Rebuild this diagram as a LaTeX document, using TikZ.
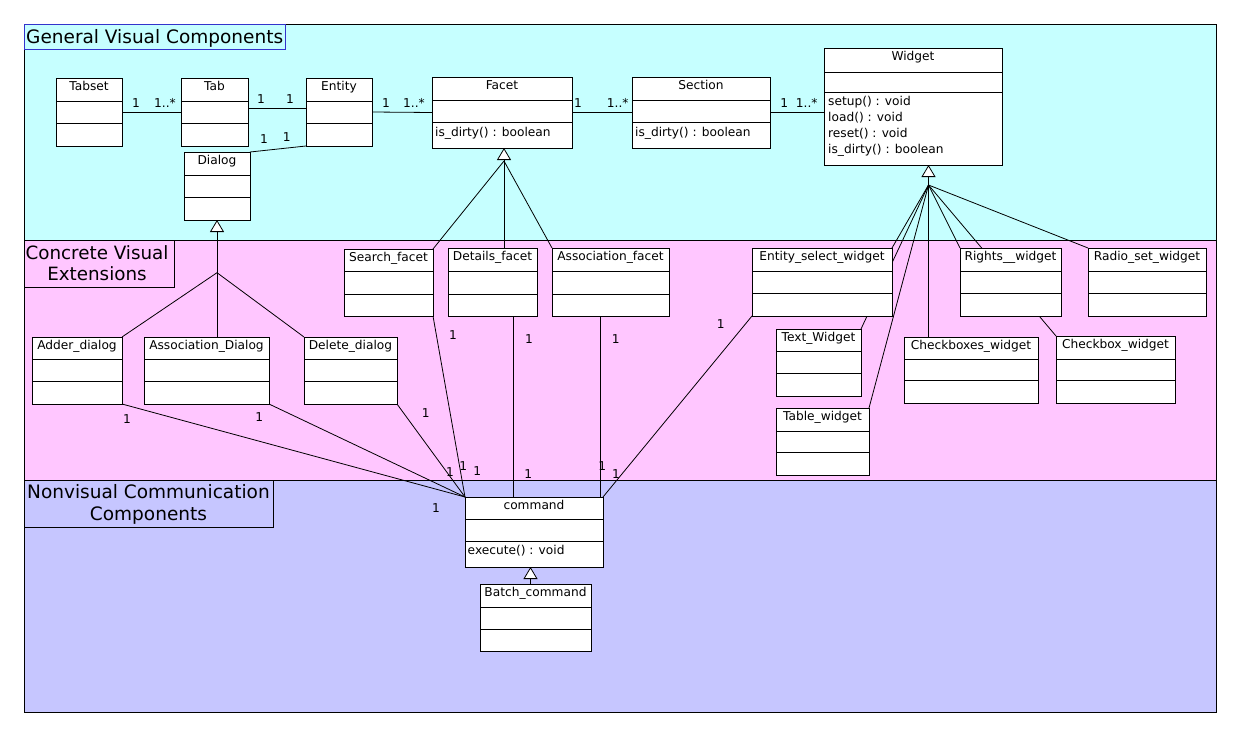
\documentclass[tikz,border=0pt]{standalone}
\usepackage{fontspec}
\setmainfont{DejaVu Sans}
\usetikzlibrary{arrows.meta,calc}
\pgfdeclarelayer{bg}
\pgfdeclarelayer{wires}
\pgfsetlayers{bg,wires,main}
\definecolor{bandA}{RGB}{198,255,255}
\definecolor{bandB}{RGB}{255,198,255}
\definecolor{bandC}{RGB}{198,198,255}
\definecolor{ttlblue}{RGB}{51,51,204}
\tikzset{
  clsbox/.style={draw=black, fill=white, line width=1pt, inner sep=0pt, outer sep=0pt},
  clsrule/.style={line width=1pt},
  clsname/.style={font=\fontsize{12.2}{14}\selectfont, anchor=base, inner sep=0pt},
  meth/.style={font=\fontsize{12.2}{14}\selectfont, anchor=base west, inner sep=0pt},
  mult/.style={font=\fontsize{12.2}{14}\selectfont, inner sep=0pt},
  assoc/.style={draw=black, line width=0.8pt},
  gen/.style={draw=black, line width=0.8pt, -{Triangle[fill=white, length=12pt, width=14pt]}},
  band/.style={draw=black, line width=0.9pt},
  ttl/.style={anchor=base, inner sep=0pt}
}
\newcommand\umlclass[8]{%
  \node[clsbox, minimum width={#4-#2}, minimum height={#5-#3}, anchor=north west] (#1) at (#2,#3) {};
  \draw[clsrule] (#2,#6) -- (#4,#6) (#2,#7) -- (#4,#7);
  \node[clsname] (#1-n) at ({(#2+#4)/2},{#3+12.3}) {#8};
}
\begin{document}
\begin{tikzpicture}[x=1pt,y=-1pt]
\useasboundingbox (0,0) rectangle (1240,736);
\begin{pgfonlayer}{bg}
  \fill[white] (0,0) rectangle (1240,736);
  \fill[bandA] (24,24) rectangle (1216,240);
  \fill[bandB] (24,240) rectangle (1216,480);
  \fill[bandC] (24,480) rectangle (1216,712);
  \draw[band] (24,24) rectangle (1216,240);
  \draw[band] (24,240) rectangle (1216,480);
  \draw[band] (24,480) rectangle (1216,712);
\end{pgfonlayer}

% title boxes
\draw[ttlblue, line width=0.9pt] (24,24) rectangle (285,49);
\draw[black, line width=0.9pt] (24,240) rectangle (174,287);
\draw[black, line width=0.9pt] (24,480) rectangle (273,527);
\node[ttl, anchor=base west, font=\fontsize{18.5}{20}\selectfont] (t1) at (26,43.3) {General Visual Components};
\node[ttl, font=\fontsize{18.3}{20}\selectfont] (t2a) at (97,259) {Concrete Visual};
\node[ttl, font=\fontsize{18.3}{20}\selectfont] (t2b) at (97,280.3) {Extensions};
\node[ttl, font=\fontsize{18.5}{20}\selectfont] (t3a) at (148.5,498.3) {Nonvisual Communication};
\node[ttl, font=\fontsize{18.5}{20}\selectfont] (t3b) at (148.5,520) {Components};

% classes
\umlclass{Tabset}{56}{78}{122}{146}{101}{123}{Tabset}
\umlclass{Tab}{181}{78}{248}{146}{101}{123}{Tab}
\umlclass{Entity}{306}{78}{372}{146}{101}{123}{Entity}
\umlclass{Dialog}{184}{152}{250}{220}{175}{197}{Dialog}
\umlclass{Facet}{432}{77}{572}{148}{100}{122}{Facet}
\umlclass{Section}{632}{77}{770}{148}{100}{122}{Section}
\umlclass{Widget}{824}{48}{1002}{165}{72}{92}{Widget}
\umlclass{Search}{344}{249}{433}{316}{271}{294}{Search\_facet}
\umlclass{Details}{448}{248}{537}{316}{271}{294}{Details\_facet}
\umlclass{Assocf}{552}{248}{669}{316}{271}{294}{Association\_facet}
\umlclass{EntSel}{752}{248}{892}{316}{271}{293}{Entity\_select\_widget}
\umlclass{Rights}{960}{248}{1061}{316}{271}{293}{Rights\_\_widget}
\umlclass{Radio}{1088}{248}{1206}{316}{271}{293}{Radio\_set\_widget}
\umlclass{Adder}{32}{337}{122}{404}{359}{381}{Adder\_dialog}
\umlclass{AssocD}{144}{337}{269}{404}{359}{381}{Association\_Dialog}
\umlclass{Delete}{304}{337}{397}{404}{359}{381}{Delete\_dialog}
\umlclass{TextW}{776}{329}{861}{396}{351}{373}{Text\_Widget}
\umlclass{Checkboxes}{904}{337}{1038}{403}{359}{380}{Checkboxes\_widget}
\umlclass{Checkbox}{1056}{336}{1175}{403}{359}{380}{Checkbox\_widget}
\umlclass{TableW}{776}{408}{869}{475}{431}{452}{Table\_widget}
\umlclass{command}{465}{497}{603}{567}{519}{541}{command}
\umlclass{Batch}{480}{584}{591}{651}{607}{629}{Batch\_command}

% methods
\node[meth] (Facet-m1) at (435,136) {is\_dirty() : boolean};
\node[meth] (Section-m1) at (635,136) {is\_dirty() : boolean};
\node[meth] (Widget-m1) at (828,105.7) {setup() : void};
\node[meth] (Widget-m2) at (828,121.7) {load() : void};
\node[meth] (Widget-m3) at (828,137.7) {reset() : void};
\node[meth] (Widget-m4) at (828,153.7) {is\_dirty() : boolean};
\node[meth] (command-m1) at (467.5,554.3) {execute() : void};

% helper coordinates
\coordinate (fanD) at (217,272.7);
\coordinate (fApex) at (504,148);
\coordinate (fanF) at (504,161);
\coordinate (wApex) at (928.5,165);
\coordinate (fanW) at (928.5,185);
\coordinate (cApex) at (530.5,567);
\coordinate (dt) at (513.3,316);
\coordinate (af) at (600,316);

\begin{pgfonlayer}{wires}
  % associations, top band
  \draw[assoc] (Tabset.east) -- (Tab.west);
  \draw[assoc] ([yshift=4pt]Tab.east) -- ([yshift=4pt]Entity.west);
  \draw[assoc] (Dialog.north east) -- (Entity.south west);
  \draw[assoc] (Entity.east) -- (Facet.west);
  \draw[assoc] (Facet.east) -- (Section.west);
  \draw[assoc] (Section.east) -- (Section.east -| Widget.west);
  % generalizations
  \draw[gen] (AssocD.north -| Dialog.south) -- (Dialog.south);
  \draw[assoc] (fanD) -- (Adder.north east);
  \draw[assoc] (fanD) -- (Delete.north west);
  \draw[gen] (fApex |- Details.north) -- (fApex);
  \draw[assoc] (fanF) -- (Search.north east);
  \draw[assoc] (fanF) -- (Assocf.north west);
  \draw[gen] (wApex |- Checkboxes.north) -- (wApex);
  \draw[assoc] (fanW) -- (EntSel.north east);
  \draw[assoc] (fanW) -- (TextW.north east);
  \draw[assoc] (fanW) -- (TableW.north east);
  \draw[assoc] (fanW) -- (Rights.north west);
  \draw[assoc] (fanW) -- (Checkbox.north west);
  \draw[assoc] (fanW) -- (Radio.north west);
  \draw[gen] (cApex |- Batch.north) -- (cApex);
  % associations to command
  \draw[assoc] (Adder.south east) -- (command.north west);
  \draw[assoc] (AssocD.south east) -- (command.north west);
  \draw[assoc] (Delete.south east) -- (command.north west);
  \draw[assoc] (Search.south east) -- (command.north west);
  \draw[assoc] (dt) -- (dt |- command.north);
  \draw[assoc] (af) -- (af |- command.north);
  \draw[assoc] (EntSel.south west) -- (command.north east);
\end{pgfonlayer}

% multiplicities
\foreach \px/\py/\t [count=\i] in {
  136/103.3/1, 165/103/1..*, 261/99/1, 290/99/1, 264/139.3/1, 286.7/136.7/1,
  386/103/1, 414/103/1..*, 578/103.3/1, 617.7/103/1..*, 784.3/103/1, 806.7/103/1..*,
  127/419.5/1, 259.3/416.7/1, 425.7/412.7/1, 453/335/1, 529/338.7/1, 615.7/338.7/1, 720.7/323.7/1,
  450/472.3/1, 463.3/465.7/1, 477.3/470.7/1, 528.3/474.3/1, 602.3/465.7/1, 616/474.3/1, 436/507.7/1}
  \node[mult] (mlt\i) at (\px,\py) {\t};
\end{tikzpicture}
\end{document}
